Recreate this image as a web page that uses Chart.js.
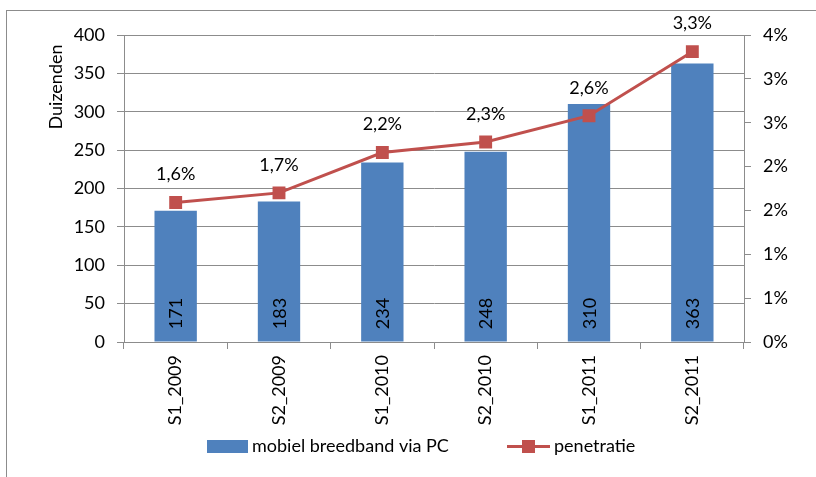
<!DOCTYPE html>
<html><head><meta charset="utf-8">
<script src="https://cdn.jsdelivr.net/npm/chart.js@4"></script>
<style>html,body{margin:0;padding:0;background:#fff}#wrap{width:816px;height:477px;position:relative}</style>
</head><body><div id="wrap"><canvas id="c" width="816" height="477"></canvas></div>
<script>
const categories = ['S1_2009','S2_2009','S1_2010','S2_2010','S1_2011','S2_2011'];
const broadband = [171,183,234,248,310,363];
const penetration = [1.59,1.70,2.16,2.28,2.58,3.31];
const seriesNames = ['mobiel breedband via PC','penetratie'];
const axisTitle = 'Duizenden';

const FONT = 'Lato';
const FS = 18;
const BLUE = '#4F81BD';
const RED = '#C0504D';
const GRID = '#8c8c8c';
const TXT = '#000';

const fmtPct = v => v.toFixed(1).replace('.', ',') + '%';

const extras = {
  id: 'extras',
  beforeDraw(chart) {
    const ctx = chart.ctx;
    ctx.save();
    ctx.strokeStyle = GRID;
    ctx.lineWidth = 1;
    ctx.strokeRect(6.5, 10.5, 900, 600);
    ctx.restore();
  },
  afterDatasetsDraw(chart) {
    const ctx = chart.ctx;
    ctx.save();
    ctx.font = FS + 'px ' + FONT;
    ctx.fillStyle = TXT;
    ctx.textAlign = 'center';
    ctx.textBaseline = 'middle';
    // bar labels
    const mb = chart.getDatasetMeta(0);
    mb.data.forEach((el, i) => {
      ctx.save();
      ctx.translate(el.x + 1, el.base - 28);
      ctx.rotate(-Math.PI / 2);
      ctx.fillText(String(broadband[i]), 0, 0);
      ctx.restore();
    });
    // line labels
    const ml = chart.getDatasetMeta(1);
    ml.data.forEach((el, i) => {
      ctx.fillText(fmtPct(penetration[i]), el.x, el.y - 28);
    });
    // axis title
    ctx.save();
    ctx.translate(56, 87);
    ctx.rotate(-Math.PI / 2);
    ctx.fillText(axisTitle, 0, 0);
    ctx.restore();
    // legend
    const ly = 446;
    ctx.fillStyle = BLUE;
    ctx.fillRect(207, ly - 6, 41, 13);
    ctx.fillStyle = TXT;
    ctx.textAlign = 'left';
    ctx.fillText(seriesNames[0], 252, ly);
    ctx.strokeStyle = RED;
    ctx.lineWidth = 3;
    ctx.beginPath();
    ctx.moveTo(507, ly + 0.5);
    ctx.lineTo(550, ly + 0.5);
    ctx.stroke();
    ctx.fillStyle = RED;
    ctx.fillRect(522, ly - 6, 13, 13);
    ctx.fillStyle = TXT;
    ctx.fillText(seriesNames[1], 554, ly);
    ctx.restore();
  }
};

new Chart(document.getElementById('c'), {
  data: {
    labels: categories,
    datasets: [
      {
        type: 'bar',
        label: seriesNames[0],
        data: broadband,
        backgroundColor: BLUE,
        yAxisID: 'y',
        order: 1,
        categoryPercentage: 1,
        barPercentage: 0.41
      },
      {
        type: 'line',
        label: seriesNames[1],
        data: penetration,
        borderColor: RED,
        backgroundColor: RED,
        borderWidth: 3,
        pointStyle: 'rect',
        pointRadius: 7,
        pointHoverRadius: 7,
        yAxisID: 'y1',
        order: 0,
        tension: 0
      }
    ]
  },
  options: {
    responsive: false,
    animation: false,
    devicePixelRatio: 1,
    layout: { padding: { left: 0, right: 0, top: 35, bottom: 0 } },
    plugins: { legend: { display: false }, tooltip: { enabled: false } },
    scales: {
      x: {
        offset: true,
        grid: { offset: true, drawOnChartArea: false, drawTicks: true, tickLength: 7, color: GRID },
        border: { color: GRID },
        ticks: { minRotation: 90, maxRotation: 90, padding: 6, color: TXT, font: { family: FONT, size: FS } },
        afterFit: s => { s.height = 135; }
      },
      y: {
        position: 'left',
        min: 0, max: 400,
        ticks: { stepSize: 50, padding: 12, color: TXT, font: { family: FONT, size: FS } },
        grid: { color: GRID, tickLength: 7 },
        border: { color: GRID },
        afterFit: s => { s.width = 124; }
      },
      y1: {
        position: 'right',
        min: 0, max: 3.5,
        ticks: { stepSize: 0.5, padding: 12, color: TXT, font: { family: FONT, size: FS }, callback: v => Math.round(v) + '%' },
        grid: { drawOnChartArea: false, color: GRID, tickLength: 7 },
        border: { color: GRID },
        afterFit: s => { s.width = 72; }
      }
    }
  },
  plugins: [extras]
});
</script>
</body></html>
